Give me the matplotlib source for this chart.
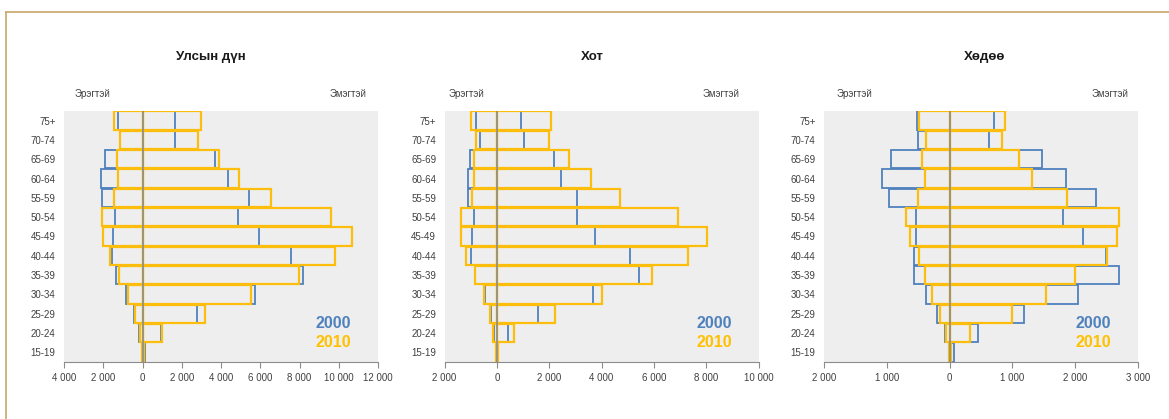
import matplotlib.pyplot as plt
import matplotlib.ticker as ticker
import numpy as np
from matplotlib.lines import Line2D

plt.rcParams['font.family'] = ['Liberation Sans', 'DejaVu Sans']

ages = ['15-19', '20-24', '25-29', '30-34', '35-39', '40-44', '45-49',
        '50-54', '55-59', '60-64', '65-69', '70-74', '75+']

# Улсын дүн
total_m_2000 = [50, 170, 440, 830, 1360, 1550, 1480, 1410, 2040, 2140, 1900, 1140, 1270]
total_f_2000 = [140, 920, 2770, 5720, 8170, 7560, 5930, 4890, 5420, 4350, 3680, 1680, 1660]
total_m_2010 = [30, 140, 390, 730, 1220, 1650, 1990, 2040, 1440, 1240, 1310, 1140, 1460]
total_f_2010 = [90, 1000, 3210, 5550, 7950, 9810, 10700, 9590, 6570, 4910, 3890, 2840, 2970]

# Хот
city_m_2000 = [30, 100, 230, 470, 820, 1000, 950, 870, 1100, 1090, 1010, 640, 790]
city_f_2000 = [30, 430, 1570, 3680, 5450, 5100, 3770, 3070, 3080, 2460, 2180, 1020, 920]
city_m_2010 = [50, 130, 270, 500, 830, 1170, 1370, 1370, 960, 870, 880, 800, 1000]
city_f_2010 = [50, 650, 2210, 4000, 5930, 7320, 8020, 6910, 4710, 3600, 2760, 1990, 2080]

# Хөдөө
rural_m_2000 = [10, 80, 200, 370, 570, 560, 540, 540, 960, 1070, 930, 510, 520]
rural_f_2000 = [70, 460, 1190, 2050, 2690, 2490, 2130, 1810, 2330, 1850, 1470, 620, 710]
rural_m_2010 = [10, 50, 150, 280, 390, 490, 630, 690, 500, 390, 440, 380, 480]
rural_f_2010 = [30, 330, 1000, 1530, 2000, 2510, 2660, 2690, 1870, 1310, 1110, 830, 880]

titles = ['Улсын дүн', 'Хот', 'Хөдөө']
xlims = [(-4000, 12000), (-2000, 10000), (-2000, 3000)]
xsteps = [2000, 2000, 1000]
data = [
    (total_m_2000, total_f_2000, total_m_2010, total_f_2010),
    (city_m_2000, city_f_2000, city_m_2010, city_f_2010),
    (rural_m_2000, rural_f_2000, rural_m_2010, rural_f_2010),
]

blue = '#4f81bd'
orange = '#fcbd0c'
txt = '#404040'

fig = plt.figure(figsize=(11.69, 4.19), dpi=100)

lefts = [64, 444.5, 824]
title_x = [211, 592, 985]
left_lbl = [92, 466, 854]
right_lbl = [348, 721, 1110]

y = np.arange(len(ages))

for i in range(3):
    ax = fig.add_axes([lefts[i] / 1169, 1 - 362 / 419, 314 / 1169, 251 / 419])
    ax.set_facecolor('#eeeeee')
    m0, f0, m1, f1 = data[i]
    ax.barh(y, -np.array(m0), height=0.95, fill=False, edgecolor=blue, linewidth=1.3)
    ax.barh(y, f0, height=0.95, fill=False, edgecolor=blue, linewidth=1.3)
    ax.barh(y, -np.array(m1), height=0.95, fill=False, edgecolor=orange, linewidth=1.6)
    ax.barh(y, f1, height=0.95, fill=False, edgecolor=orange, linewidth=1.6)
    ax.axvline(0, color='#8c8c8c', linewidth=1.2, zorder=3)

    ax.set_xlim(xlims[i])
    ax.set_ylim(-0.5, len(ages) - 0.5)
    ax.set_yticks(y)
    ax.set_yticklabels(ages, fontsize=7, color=txt)
    ax.tick_params(axis='y', length=0, pad=6)
    ax.xaxis.set_major_locator(ticker.MultipleLocator(xsteps[i]))
    ax.xaxis.set_major_formatter(ticker.FuncFormatter(
        lambda v, p: '{:,.0f}'.format(abs(v)).replace(',', ' ')))
    ax.tick_params(axis='x', labelsize=7, colors=txt, length=4, color='#8c8c8c', pad=4)
    for s in ['top', 'right', 'left']:
        ax.spines[s].set_visible(False)
    ax.spines['bottom'].set_color('#8c8c8c')

    ax.text(0.915, 0.155, '2000', transform=ax.transAxes, ha='right', va='center',
            fontsize=11.5, fontweight='bold', color=blue)
    ax.text(0.915, 0.076, '2010', transform=ax.transAxes, ha='right', va='center',
            fontsize=11.5, fontweight='bold', color='#ffc000')

    fig.text(title_x[i] / 1169, 1 - 57 / 419, titles[i], ha='center', va='center',
             fontsize=9.5, fontweight='bold', color='#1a1a1a')
    fig.text(left_lbl[i] / 1169, 1 - 94 / 419, 'Эрэгтэй', ha='center', va='center',
             fontsize=7, color=txt)
    fig.text(right_lbl[i] / 1169, 1 - 94 / 419, 'Эмэгтэй', ha='center', va='center',
             fontsize=7, color=txt)

# golden frame on top and left
frame = '#c8a86a'
fig.add_artist(Line2D([6 / 1169, 1], [1 - 12 / 419, 1 - 12 / 419], color=frame, linewidth=1.2))
fig.add_artist(Line2D([6 / 1169, 6 / 1169], [0, 1 - 12 / 419], color=frame, linewidth=1.2))

fig.savefig('out.png', dpi=100)
